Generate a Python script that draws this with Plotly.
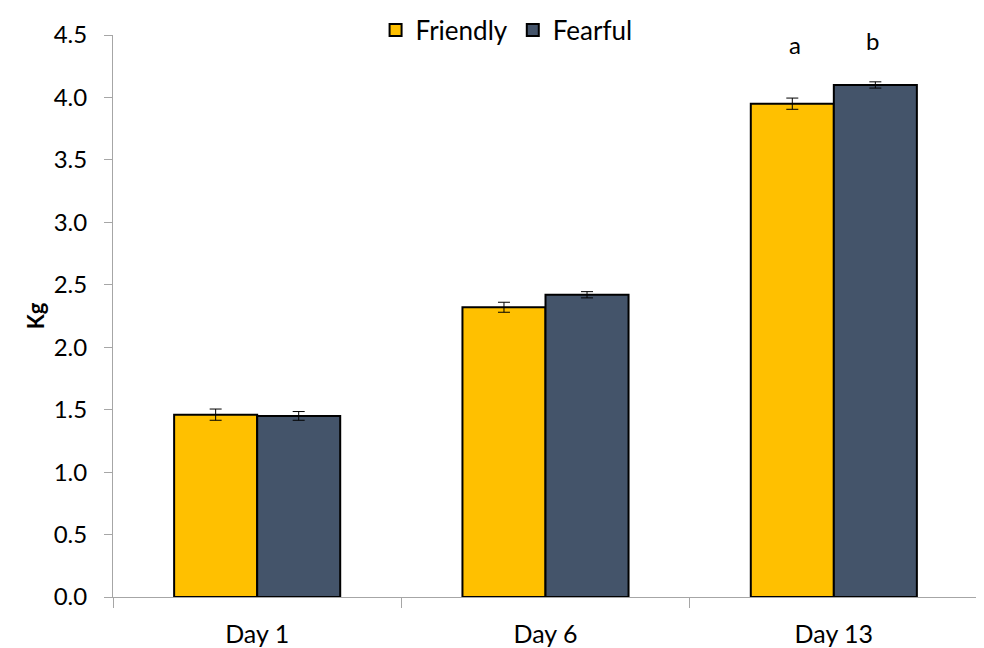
import plotly.graph_objects as go

categories = ["Day 1", "Day 6", "Day 13"]
friendly = [1.46, 2.32, 3.95]
friendly_err = [0.045, 0.04, 0.045]
fearful = [1.45, 2.42, 4.10]
fearful_err = [0.035, 0.025, 0.025]
letters = ["a", "b"]
letter_y = [4.42, 4.46]
yticks = [0.0, 0.5, 1.0, 1.5, 2.0, 2.5, 3.0, 3.5, 4.0, 4.5]

FONT = "Lato, Carlito, Calibri, sans-serif"

fig = go.Figure()
fig.add_trace(go.Bar(
    name="Friendly", x=categories, y=friendly,
    marker=dict(color="#FFC000", line=dict(color="#000000", width=2)),
    error_y=dict(type="data", array=friendly_err, color="#000000", thickness=1, width=6),
))
fig.add_trace(go.Bar(
    name="Fearful", x=categories, y=fearful,
    marker=dict(color="#44546A", line=dict(color="#000000", width=2)),
    error_y=dict(type="data", array=fearful_err, color="#000000", thickness=1, width=6),
))

fig.add_annotation(x="Day 13", y=letter_y[0], text=letters[0], showarrow=False,
                   xshift=-39, font=dict(size=24, color="#000000", family=FONT))
fig.add_annotation(x="Day 13", y=letter_y[1], text=letters[1], showarrow=False,
                   xshift=39, font=dict(size=24, color="#000000", family=FONT))

fig.update_layout(
    width=984, height=648,
    margin=dict(l=105, r=14, t=27, b=59, autoexpand=False),
    paper_bgcolor="white", plot_bgcolor="white",
    barmode="group", bargap=0.424, bargroupgap=0,
    font=dict(family=FONT, color="#000000"),
    showlegend=True,
    legend=dict(orientation="h", x=0.455, xanchor="center",
                yref="container", y=0.966, yanchor="middle",
                font=dict(size=26, family=FONT), bgcolor="rgba(0,0,0,0)",
                tracegroupgap=0),
    xaxis=dict(
        type="category", showline=True, linecolor="#A6A6A6", linewidth=1,
        ticks="outside", tickson="boundaries", ticklen=10, tickcolor="#A6A6A6",
        showgrid=False, tickfont=dict(size=25, family=FONT), zeroline=False,
        ticklabelstandoff=15,
    ),
    yaxis=dict(
        range=[0, 4.5], tickvals=yticks, tickformat=".1f",
        showline=True, linecolor="#A6A6A6", linewidth=1,
        ticks="outside", ticklen=8, tickcolor="#A6A6A6",
        showgrid=False, zeroline=False,
        tickfont=dict(size=24, family=FONT), ticklabelstandoff=12,
        title=dict(text="<b>Kg</b>", font=dict(size=22, family=FONT), standoff=2),
    ),
)

fig.write_html("out.html")
